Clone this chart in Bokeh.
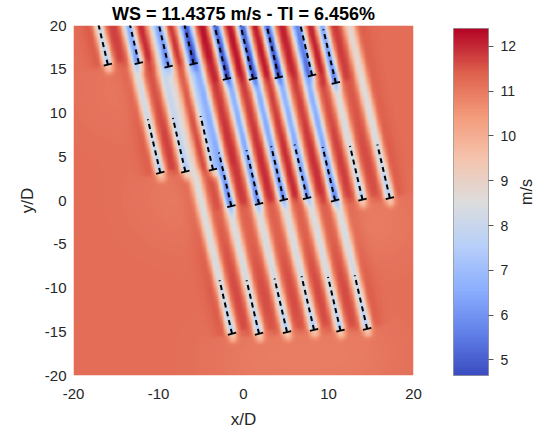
import numpy as np
from bokeh.plotting import figure
from bokeh.models import (LinearColorMapper, ColorBar, FixedTicker, Range1d,
                          ColumnDataSource, LinearAxis)
from bokeh.embed import file_html
from bokeh.resources import INLINE

# ---------------- data ----------------
turbine_x = [-1.35, 1.83, 5.12, 8.30, 11.41, 14.55,
             -1.43, 1.83, 4.73, 7.48, 10.78, 14.00, 17.22,
             -9.79, -6.84, -3.59,
             -15.96, -12.31, -8.81, -5.87, -1.95, 1.12, 4.15, 8.07, 10.86]
turbine_y = [-15.23, -15.23, -15.04, -14.78, -14.86, -14.66,
             -0.64, -0.38, 0.08, 0.27, 0.00, 0.11, 0.27,
             3.17, 3.31, 3.54,
             15.54, 15.70, 15.31, 15.62, 13.91, 13.91, 14.06, 14.29, 13.45]
wind_speed = 11.4375          # m/s (title value)
turb_intensity = 6.456        # %
plane_speed = 11.2
wake_angle_deg = 13.5         # wake direction, degrees left of +y
x_ticks = [-20, -10, 0, 10, 20]
y_ticks = [-20, -15, -10, -5, 0, 5, 10, 15, 20]
cbar_ticks = [5, 6, 7, 8, 9, 10, 11, 12]
cbar_low, cbar_high = 4.65, 12.4

# wake model parameters
sigma0, sigma_growth = 0.45, 0.004
deficit_far, deficit_near, near_len = 0.21, 0.12, 8.0
flank = 0.2
ind_near, ind_broad, ind_broad_size = 0.12, 0.009, 3.5
dash_len = 6.3

FONT = "Liberation Sans"

# ---------------- field ----------------
th = np.deg2rad(wake_angle_deg)
wx, wy = -np.sin(th), np.cos(th)
nx, ny = np.cos(th), np.sin(th)
tx = np.array(turbine_x)
ty = np.array(turbine_y)


def wake_shape(s, r):
    sp = np.clip(s, 0, None)
    sig = sigma0 + sigma_growth * sp
    amp = deficit_far + deficit_near * np.exp(-sp / near_len)
    onset = 0.5 * (1 + np.tanh(s / 0.25))
    prof = (1 + flank) * np.exp(-r ** 2 / (2 * sig ** 2)) - flank * np.exp(-r ** 2 / (2 * (2.5 * sig) ** 2))
    return amp * onset * prof


def induction_shape(s, r):
    near = ind_near * np.exp(-((s + 0.45) ** 2) / (2 * 0.4 ** 2) - r ** 2 / (2 * 0.38 ** 2))
    broad = ind_broad * np.exp(-((s + 3.0) ** 2 + r ** 2) / (2 * ind_broad_size ** 2))
    return near + broad


d = tx * wx + ty * wy
order = np.argsort(d)
U_in = np.zeros(len(tx))
rotor = np.linspace(-0.45, 0.45, 9)
for k, i in enumerate(order):
    deficit = 0.0
    for j in order[:k]:
        s = (tx[i] - tx[j]) * wx + (ty[i] - ty[j]) * wy
        r = (tx[i] - tx[j]) * nx + (ty[i] - ty[j]) * ny + rotor
        deficit += U_in[j] * wake_shape(s, r).mean()
    U_in[i] = plane_speed - deficit

N = 400
g = np.linspace(-20, 20, N)
X, Y = np.meshgrid(g, g)
U = np.full_like(X, plane_speed)
for i in range(len(tx)):
    s = (X - tx[i]) * wx + (Y - ty[i]) * wy
    r = (X - tx[i]) * nx + (Y - ty[i]) * ny
    U -= U_in[i] * (wake_shape(s, r) + induction_shape(s, r))

# ---------------- colormap (coolwarm) ----------------
anchors = np.array([
    [59, 76, 192], [98, 130, 234], [141, 176, 254], [184, 208, 249],
    [221, 221, 221], [245, 196, 173], [244, 154, 123], [222, 96, 77], [180, 4, 38]], float)
tpos = np.linspace(0, 1, len(anchors))
tt = np.linspace(0, 1, 256)
cols = np.stack([np.interp(tt, tpos, anchors[:, c]) for c in range(3)], axis=1)
palette = ["#%02x%02x%02x" % tuple(int(round(v)) for v in c) for c in cols]
mapper = LinearColorMapper(palette=palette, low=cbar_low, high=cbar_high)

# ---------------- figure ----------------
p = figure(x_range=Range1d(-20, 20), y_range=Range1d(-20, 20),
           frame_width=340, frame_height=350,
           title=f"WS = {wind_speed} m/s - TI = {turb_intensity}%",
           output_backend="svg", toolbar_location=None,
           min_border_left=73, min_border_top=0, min_border_bottom=2, min_border_right=2)
p.title.align = "center"
p.title.text_font = FONT
p.title.text_font_size = "18px"
p.title.text_font_style = "bold"
p.title.text_color = "black"
p.title.standoff = 3
p.title.offset = 5
p.grid.visible = False
p.outline_line_color = None
p.background_fill_color = None

p.image(image=[U], x=-20, y=-20, dw=40, dh=40, color_mapper=mapper)

# turbines: dashed wake centre line and rotor bar
seg = ColumnDataSource(dict(
    x0=tx, y0=ty, x1=tx + dash_len * wx, y1=ty + dash_len * wy,
    rx0=tx - 0.5 * nx, ry0=ty - 0.5 * ny, rx1=tx + 0.5 * nx, ry1=ty + 0.5 * ny))
p.segment(x0="x0", y0="y0", x1="x1", y1="y1", source=seg, line_color="black",
          line_width=2, line_dash="5 4")
p.segment(x0="rx0", y0="ry0", x1="rx1", y1="ry1", source=seg, line_color="black", line_width=1.8)

# axes
for ax in (p.xaxis[0], p.yaxis[0]):
    ax.axis_line_color = None
    ax.major_tick_line_color = None
    ax.minor_tick_line_color = None
    ax.major_label_text_font = FONT
    ax.major_label_text_font_size = "15px"
    ax.major_label_text_color = "#262626"
    ax.axis_label_text_font = FONT
    ax.axis_label_text_font_size = "17px"
    ax.axis_label_text_font_style = "normal"
    ax.axis_label_text_color = "#262626"
p.xaxis.ticker = FixedTicker(ticks=x_ticks)
p.yaxis.ticker = FixedTicker(ticks=y_ticks)
p.xaxis.major_label_overrides = {t: str(t) for t in x_ticks}
p.yaxis.major_label_overrides = {t: str(t) for t in y_ticks}
p.xaxis.major_label_standoff = 7
p.yaxis.major_label_standoff = 1
p.xaxis.axis_label_standoff = 8
p.yaxis.axis_label_standoff = 5
p.xaxis.axis_label = "x/D"
p.yaxis.axis_label = "y/D"

cb = ColorBar(color_mapper=mapper, ticker=FixedTicker(ticks=cbar_ticks),
              width=35, height=347, padding=0, margin=0, location=(40, 0),
              bar_line_color="#777777", bar_line_width=0.6,
              major_tick_out=5, major_tick_in=0, major_tick_line_color="#555555",
              minor_tick_line_color=None,
              major_label_text_font=FONT, major_label_text_font_size="14px",
              major_label_text_color="#262626", label_standoff=7,
              background_fill_color=None)
p.add_layout(cb, "right")

# colour-bar unit, written as a tick label of an otherwise empty right axis
unit_axis = LinearAxis(ticker=FixedTicker(ticks=[-0.5]),
                       major_label_overrides={-0.5: "m/s"},
                       major_label_orientation=np.pi / 2,
                       major_label_text_font=FONT, major_label_text_font_size="16px",
                       major_label_text_color="#262626", major_label_standoff=1,
                       axis_line_color=None, major_tick_line_color=None,
                       minor_tick_line_color=None)
p.add_layout(unit_axis, "right")

open("out.html", "w").write(file_html(p, INLINE))
